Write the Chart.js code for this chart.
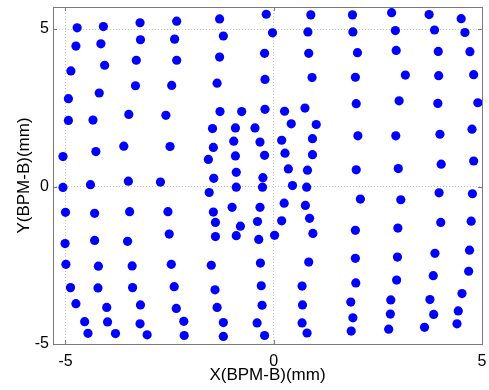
<!DOCTYPE html>
<html>
<head>
<meta charset="utf-8">
<script src="https://cdn.jsdelivr.net/npm/chart.js@4/dist/chart.umd.min.js"></script>
<style>
  html, body { margin: 0; padding: 0; background: #fff; }
  #wrap { width: 489px; height: 390px; }
</style>
</head>
<body>
<div id="wrap"><canvas id="scan" width="489" height="390"></canvas></div>
<script>
'use strict';

// ── Данные: точки скана, сгруппированы по "столбцам" (x, y в мм) ──
const columnA = [[-4.72, 5.04], [-4.75, 4.46], [-4.87, 3.67], [-4.93, 2.79], [-4.93, 2.10], [-5.06, 0.95], [-5.06, -0.03],
  [-5.00, -0.82], [-5.01, -1.81], [-4.99, -2.47], [-4.88, -3.21], [-4.75, -3.72], [-4.54, -4.29], [-4.46, -4.66]];
const columnB = [[-4.09, 5.08], [-4.15, 4.53], [-4.06, 3.85], [-4.19, 2.97], [-4.34, 2.11], [-4.27, 1.11], [-4.40, 0.06],
  [-4.30, -0.85], [-4.30, -1.71], [-4.21, -2.53], [-4.22, -3.22], [-4.01, -3.84], [-3.99, -4.30], [-3.80, -4.67]];
const columnC = [[-3.21, 5.20], [-3.20, 4.66], [-3.30, 4.01], [-3.32, 3.20], [-3.48, 2.29], [-3.60, 1.28], [-3.49, 0.17],
  [-3.46, -0.80], [-3.51, -1.74], [-3.40, -2.52], [-3.39, -3.21], [-3.20, -3.76], [-3.21, -4.36], [-3.04, -4.71]];
const columnD = [[-2.33, 5.25], [-2.38, 4.68], [-2.33, 4.01], [-2.45, 3.21], [-2.59, 2.26], [-2.49, 1.27], [-2.72, 0.14],
  [-2.54, -0.80], [-2.51, -1.51], [-2.46, -2.47], [-2.39, -3.18], [-2.34, -3.87], [-2.16, -4.28], [-2.15, -4.73]];
const columnE = [[-1.30, 5.32], [-1.21, 4.78], [-1.30, 4.11], [-1.36, 3.28], [-1.29, 2.38], [-1.47, 1.84], [-1.45, 1.24],
  [-1.57, 0.86], [-1.44, 0.26], [-1.55, -0.19], [-1.45, -0.81], [-1.40, -1.14], [-1.40, -1.59], [-1.50, -2.50],
  [-1.41, -3.28], [-1.36, -3.84], [-1.21, -4.32], [-1.21, -4.76]];
const columnF = [[-0.77, 2.38], [-0.92, 1.86], [-0.96, 1.44], [-0.92, 0.97], [-0.90, 0.45], [-0.90, -0.02],
  [-1.00, -0.66], [-0.80, -1.26], [-0.90, -1.56]];
const columnG = [[-0.18, 5.47], [-0.03, 4.88], [-0.22, 4.23], [-0.21, 3.40], [-0.21, 2.45], [-0.45, 1.86], [-0.33, 1.41],
  [-0.22, 0.99], [-0.26, 0.28], [-0.27, -0.02], [-0.33, -0.66], [-0.39, -1.11], [-0.36, -1.68], [-0.32, -2.43],
  [-0.30, -3.15], [-0.28, -3.77], [-0.40, -4.33], [-0.22, -4.73]];
const columnH = [[0.26, 2.39], [0.42, 1.99], [0.19, 1.47], [0.27, 1.06], [0.35, 0.56], [0.45, 0.03],
  [0.25, -0.53], [0.19, -1.09], [0.02, -1.55]];
const columnI = [[0.89, 5.45], [0.82, 4.91], [0.84, 4.23], [0.92, 3.46], [0.75, 2.49], [1.02, 1.97], [0.93, 1.52],
  [0.93, 1.01], [0.81, 0.52], [0.79, -0.02], [0.76, -0.60], [0.86, -1.01], [0.94, -1.49], [0.84, -2.40],
  [0.68, -3.16], [0.69, -3.76], [0.68, -4.33], [0.80, -4.65]];
const columnJ = [[1.89, 5.45], [1.90, 4.91], [2.01, 4.25], [1.96, 3.47], [1.98, 2.63], [2.02, 1.61], [1.98, 0.53],
  [2.08, -0.40], [1.96, -1.39], [1.96, -2.28], [1.97, -3.06], [1.85, -3.67], [1.90, -4.17], [1.86, -4.59]];
const columnK = [[2.83, 5.52], [2.92, 4.95], [2.94, 4.32], [3.16, 3.54], [3.01, 2.72], [2.93, 1.61], [2.99, 0.57],
  [3.05, -0.42], [2.98, -1.32], [2.97, -2.24], [2.95, -2.97], [2.81, -3.60], [2.80, -4.05], [2.76, -4.53]];
const columnL = [[3.73, 5.46], [3.86, 4.97], [3.95, 4.29], [3.96, 3.52], [3.94, 2.64], [3.99, 1.66], [4.02, 0.71],
  [3.97, -0.20], [4.01, -1.14], [3.87, -2.12], [3.83, -2.83], [3.75, -3.59], [3.84, -4.06], [3.62, -4.47]];
const columnM = [[4.50, 5.33], [4.59, 4.89], [4.71, 4.28], [4.80, 3.55], [4.90, 2.66], [4.76, 1.82], [4.80, 0.81],
  [4.77, -0.23], [4.74, -1.10], [4.70, -2.02], [4.68, -2.69], [4.52, -3.40], [4.43, -3.95], [4.40, -4.36]];

const xTickValues = [-5, 0, 5];
const yTickValues = [-5, 0, 5];
const xMin = -5.3, xMax = 5;
const yMin = -5, yMax = 5.7;

const FONT = 'Arial, "Liberation Sans", sans-serif';

// Рамка осей и короткие внутренние засечки (как в MATLAB)
const frameBox = {
  id: 'frameBox',
  beforeDatasetsDraw(chart) {
    const { ctx, chartArea: a, scales } = chart;
    ctx.save();
    ctx.strokeStyle = '#7a7a7a';
    ctx.lineWidth = 1;
    ctx.setLineDash([]);
    ctx.strokeRect(Math.round(a.left) + 0.5, Math.round(a.top) + 0.5,
      Math.round(a.right - a.left), Math.round(a.bottom - a.top));
    const tl = 4;
    ctx.beginPath();
    xTickValues.forEach((v) => {
      const px = Math.round(scales.x.getPixelForValue(v)) + 0.5;
      ctx.moveTo(px, a.bottom); ctx.lineTo(px, a.bottom - tl);
      ctx.moveTo(px, a.top); ctx.lineTo(px, a.top + tl);
    });
    yTickValues.forEach((v) => {
      const py = Math.round(scales.y.getPixelForValue(v)) + 0.5;
      ctx.moveTo(a.left, py); ctx.lineTo(a.left + tl, py);
      ctx.moveTo(a.right, py); ctx.lineTo(a.right - tl, py);
    });
    ctx.stroke();
    ctx.restore();
  },
};

const points = [].concat(columnA, columnB, columnC, columnD, columnE, columnF, columnG,
  columnH, columnI, columnJ, columnK, columnL, columnM).map(([x, y]) => ({ x, y }));

new Chart(document.getElementById('scan'), {
  type: 'scatter',
  data: {
    datasets: [{
      data: points,
      backgroundColor: '#0000ff',
      borderWidth: 0,
      pointRadius: 4.6,
      pointHoverRadius: 4.6,
    }],
  },
  options: {
    responsive: false,
    animation: false,
    layout: { padding: { top: 7, right: 7, left: 0, bottom: 0 } },
    plugins: { legend: { display: false }, tooltip: { enabled: false } },
    scales: {
      x: {
        type: 'linear',
        min: xMin,
        max: xMax,
        afterBuildTicks: (s) => { s.ticks = xTickValues.map((v) => ({ value: v })); },
        afterFit: (s) => { s.height = 46; s.paddingLeft = 0; s.paddingRight = 0; },
        grid: { color: '#c4c4c4', drawTicks: false, lineWidth: 1 },
        border: { display: false, dash: [1, 2] },
        ticks: {
          color: '#000', padding: 8, maxRotation: 0, autoSkip: false,
          font: { family: FONT, size: 16 },
          callback: (v) => String(v),
        },
        title: {
          display: true, text: 'X(BPM-B)(mm)', color: '#000',
          font: { family: FONT, size: 17 },
          padding: { top: 0, bottom: 4 },
        },
      },
      y: {
        type: 'linear',
        min: yMin,
        max: yMax,
        afterBuildTicks: (s) => { s.ticks = yTickValues.map((v) => ({ value: v })); },
        afterFit: (s) => { s.width = 53; s.paddingTop = 0; s.paddingBottom = 0; },
        grid: { color: '#c4c4c4', drawTicks: false, lineWidth: 1 },
        border: { display: false, dash: [1, 2] },
        ticks: {
          color: '#000', padding: 4, autoSkip: false,
          font: { family: FONT, size: 16 },
          callback: (v) => String(v),
        },
        title: {
          display: true, text: 'Y(BPM-B)(mm)', color: '#000',
          font: { family: FONT, size: 17 },
          padding: { top: 14, bottom: 0 },
        },
      },
    },
  },
  plugins: [frameBox],
});
</script>
</body>
</html>
